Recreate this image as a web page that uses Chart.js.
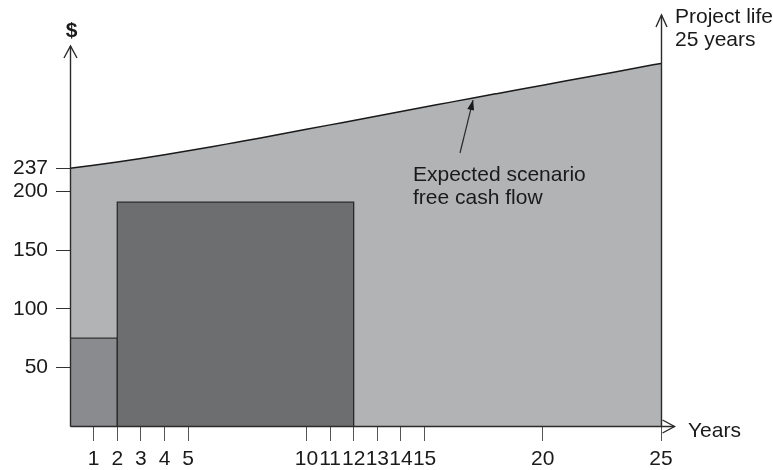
<!DOCTYPE HTML>
<html>
<head>
  <meta charset="utf-8">
  <script src="https://cdn.jsdelivr.net/npm/chart.js@4.4.1/dist/chart.umd.min.js"></script>
  <style>
    html, body { margin: 0; padding: 0; background: #fff; }
    #wrap { width: 773px; height: 470px; }
  </style>
  <script>
    //-------------------------------------
    // data (schematic, $ scale as drawn)
    var years = [0, 1, 2, 3, 4, 5, 6, 7, 8, 9, 10, 11, 12, 13, 14, 15, 16, 17, 18, 19, 20, 21, 22, 23, 24, 25];
    var freeCashFlow = [220, 222.5, 225.3, 228.3, 231.5, 234.9, 238.4, 242, 245.6, 249.4, 253.2, 257, 260.8,
                        264.6, 268.4, 272.2, 276, 279.8, 283.5, 287.2, 290.9, 294.6, 298.3, 302, 305.7, 309.5];

    var startupYears = [0, 2];
    var startupValue = 75;
    var investYears = [2, 12];
    var investValue = 191;

    var xTickValues = [1, 2, 3, 4, 5, 10, 11, 12, 13, 14, 15, 20, 25];
    var yTickValues = [50, 100, 150, 200, 220];
    var yTickLabels = ['50', '100', '150', '200', '237'];
    //-------------------------------------

    var FONT = '"Liberation Sans", Arial, Helvetica, sans-serif';

    function boxPoints(span, value) {
      return [
        {x: span[0], y: 0}, {x: span[0], y: value},
        {x: span[1], y: value}, {x: span[1], y: 0}
      ];
    }

    function arrowHead(ctx, x1, y1, x2, y2, len, half) {
      var a = Math.atan2(y2 - y1, x2 - x1);
      ctx.beginPath();
      ctx.moveTo(x2 - len * Math.cos(a) + half * Math.sin(a), y2 - len * Math.sin(a) - half * Math.cos(a));
      ctx.lineTo(x2, y2);
      ctx.lineTo(x2 - len * Math.cos(a) - half * Math.sin(a), y2 - len * Math.sin(a) + half * Math.cos(a));
      ctx.stroke();
    }

    var extras = {
      id: 'extras',
      afterDraw: function(chart) {
        var ctx = chart.ctx;
        var xs = chart.scales.x, ys = chart.scales.y;
        var x0 = Math.round(xs.getPixelForValue(0)) + 0.5;
        var x25 = Math.round(xs.getPixelForValue(25)) + 0.5;
        var y0 = Math.round(ys.getPixelForValue(0)) + 0.5;
        ctx.save();
        ctx.strokeStyle = '#2b2b2b';
        ctx.lineWidth = 1.4;

        // y axis with open arrow
        ctx.beginPath(); ctx.moveTo(x0, y0); ctx.lineTo(x0, 46); ctx.stroke();
        arrowHead(ctx, x0, 60, x0, 46, 12, 6.5);
        // x axis with open arrow
        ctx.beginPath(); ctx.moveTo(x0, y0); ctx.lineTo(x25 + 13, y0); ctx.stroke();
        arrowHead(ctx, x0, y0, x25 + 13, y0, 12, 6.5);
        // project life line
        ctx.beginPath(); ctx.moveTo(x25, y0); ctx.lineTo(x25, 15); ctx.stroke();
        arrowHead(ctx, x25, 40, x25, 15, 12, 5.5);

        // pointer to curve
        var px = xs.getPixelForValue(17.05), py = ys.getPixelForValue(279.9) + 2;
        ctx.lineWidth = 1.2;
        ctx.beginPath(); ctx.moveTo(460, 153); ctx.lineTo(px, py); ctx.stroke();
        var a = Math.atan2(py - 153, px - 460);
        ctx.fillStyle = '#1a1a1a';
        ctx.beginPath();
        ctx.moveTo(px, py);
        ctx.lineTo(px - 10 * Math.cos(a) + 3.5 * Math.sin(a), py - 10 * Math.sin(a) - 3.5 * Math.cos(a));
        ctx.lineTo(px - 10 * Math.cos(a) - 3.5 * Math.sin(a), py - 10 * Math.sin(a) + 3.5 * Math.cos(a));
        ctx.closePath(); ctx.fill();

        // texts
        ctx.fillStyle = '#1a1a1a';
        ctx.textBaseline = 'middle';
        ctx.font = 'bold 21px ' + FONT;
        ctx.textAlign = 'center';
        ctx.fillText('$', x0 + 1, 31);
        ctx.font = '21px ' + FONT;
        ctx.textAlign = 'left';
        ctx.fillText('Years', 688, 431);
        ctx.fillText('Project life', 675, 17);
        ctx.fillText('25 years', 675, 40);
        ctx.fillText('Expected scenario', 413, 175);
        ctx.fillText('free cash flow', 413, 198);
        ctx.restore();
      }
    };

    window.addEventListener('load', function() {
      var ctx = document.getElementById('myChart').getContext('2d');
      var chart = new Chart(ctx, {
        type: 'line',
        data: {
          datasets: [{
            data: boxPoints(investYears, investValue),
            fill: 'origin',
            backgroundColor: '#6d6e70',
            borderColor: '#2a2a2a',
            borderWidth: 1.3,
            pointRadius: 0,
            tension: 0
          }, {
            data: boxPoints(startupYears, startupValue),
            fill: 'origin',
            backgroundColor: '#8a8b8e',
            borderColor: '#333333',
            borderWidth: 1.2,
            pointRadius: 0,
            tension: 0
          }, {
            data: years.map(function(y, i) { return {x: y, y: freeCashFlow[i]}; }),
            fill: 'origin',
            backgroundColor: '#b1b3b5',
            borderColor: '#1a1a1a',
            borderWidth: 1.5,
            pointRadius: 0,
            cubicInterpolationMode: 'monotone'
          }]
        },
        options: {
          responsive: false,
          animation: false,
          events: [],
          layout: { padding: { top: 8, right: 112, left: 0, bottom: 0 } },
          plugins: { legend: { display: false }, tooltip: { enabled: false } },
          scales: {
            x: {
              type: 'linear',
              min: 0,
              max: 25,
              border: { display: false },
              grid: { drawOnChartArea: false, drawTicks: true, tickLength: 15, color: '#555', lineWidth: 1 },
              afterBuildTicks: function(scale) {
                scale.ticks = xTickValues.map(function(v) { return {value: v}; });
              },
              afterFit: function(scale) { scale.height = 44; },
              ticks: {
                autoSkip: false,
                maxRotation: 0,
                minRotation: 0,
                padding: 6,
                color: '#1a1a1a',
                font: { family: FONT, size: 21 }
              }
            },
            y: {
              type: 'linear',
              min: 0,
              max: 346,
              border: { display: false },
              grid: { drawOnChartArea: false, drawTicks: true, tickLength: 14, color: '#333', lineWidth: 1 },
              afterBuildTicks: function(scale) {
                scale.ticks = yTickValues.map(function(v) { return {value: v}; });
              },
              afterFit: function(scale) { scale.width = 70; },
              ticks: {
                autoSkip: false,
                padding: 8,
                color: '#1a1a1a',
                font: { family: FONT, size: 21 },
                callback: function(v) {
                  var i = yTickValues.indexOf(v);
                  return i >= 0 ? yTickLabels[i] : '';
                }
              }
            }
          }
        },
        plugins: [extras]
      });
    });
  </script>
</head>
<body>
  <div id="wrap"><canvas id="myChart" width="773" height="470"></canvas></div>
</body>
</html>
